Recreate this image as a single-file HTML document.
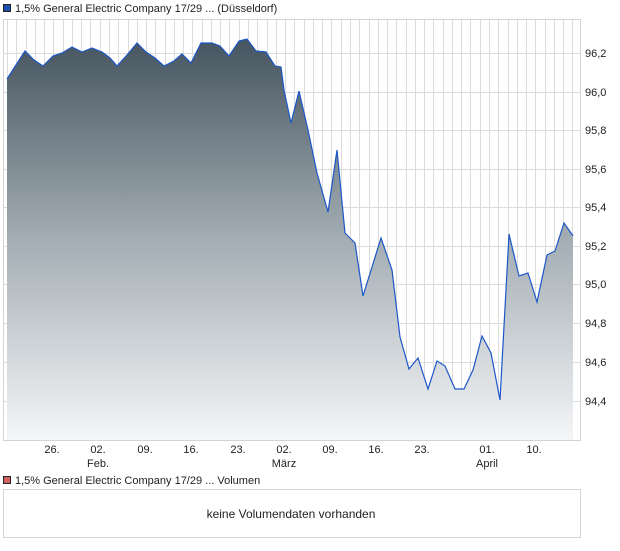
<!DOCTYPE html>
<html><head><meta charset="utf-8"><style>
body{margin:0;background:#fff;width:620px;height:546px;overflow:hidden;font-family:"Liberation Sans",sans-serif;}
</style></head><body>
<svg width="620" height="546" xmlns="http://www.w3.org/2000/svg" font-family="Liberation Sans, sans-serif">
<defs>
<linearGradient id="g" x1="0" y1="0" x2="0" y2="1">
<stop offset="0" stop-color="#45545f"/>
<stop offset="0.5" stop-color="#a3adb3"/>
<stop offset="1" stop-color="#f5f6f8"/>
</linearGradient>
</defs>
<rect x="3.5" y="4.5" width="7" height="7" fill="#1f4fb0" stroke="#222" stroke-width="1"/>
<text x="15" y="12" font-size="11" fill="#222">1,5% General Electric Company 17/29 ... (Düsseldorf)</text>
<g stroke="#dcdcdc" stroke-width="1">
<line x1="3" y1="53.5" x2="580" y2="53.5"/><line x1="3" y1="92.5" x2="580" y2="92.5"/><line x1="3" y1="130.5" x2="580" y2="130.5"/><line x1="3" y1="169.5" x2="580" y2="169.5"/><line x1="3" y1="207.5" x2="580" y2="207.5"/><line x1="3" y1="246.5" x2="580" y2="246.5"/><line x1="3" y1="284.5" x2="580" y2="284.5"/><line x1="3" y1="323.5" x2="580" y2="323.5"/><line x1="3" y1="362.5" x2="580" y2="362.5"/><line x1="3" y1="401.5" x2="580" y2="401.5"/>
</g>
<g stroke="#dcdcdc" stroke-width="1" id="vg"></g>
<path d="M7,79 L16,65 L25,51 L34,60 L43,66 L53,56 L62,53 L72,47 L82,52 L92,48 L102,52 L110,58 L117,66 L127,55 L137,43 L146,52 L155,58 L164,66 L174,61 L182,54 L191,63 L201,43 L212,43 L220,46 L229,56 L239,41 L247,39 L256,51 L266,52 L275,66 L281,67 L284,90 L291,123 L299,91 L308,130 L317,173 L328,212 L337,150 L345,233 L355,243 L363,296 L381,238 L392,270 L400,337 L409,369 L418,358 L428,389 L437,361 L445,366 L455,389 L464,389 L473,370 L482,336 L491,353 L500,400 L509,234 L519,276 L528,273 L537,302 L547,255 L555,251 L564,223 L573,236 L573,440 L7,440 Z" fill="url(#g)"/>
<path d="M7,79 L16,65 L25,51 L34,60 L43,66 L53,56 L62,53 L72,47 L82,52 L92,48 L102,52 L110,58 L117,66 L127,55 L137,43 L146,52 L155,58 L164,66 L174,61 L182,54 L191,63 L201,43 L212,43 L220,46 L229,56 L239,41 L247,39 L256,51 L266,52 L275,66 L281,67 L284,90 L291,123 L299,91 L308,130 L317,173 L328,212 L337,150 L345,233 L355,243 L363,296 L381,238 L392,270 L400,337 L409,369 L418,358 L428,389 L437,361 L445,366 L455,389 L464,389 L473,370 L482,336 L491,353 L500,400 L509,234 L519,276 L528,273 L537,302 L547,255 L555,251 L564,223 L573,236" fill="none" stroke="#1c57c8" stroke-width="1.2"/>
<rect x="3.5" y="19.5" width="577" height="421" fill="none" stroke="#d4d4d4"/>
<g font-size="11" fill="#222">
<text x="585" y="57">96,2</text><text x="585" y="96">96,0</text><text x="585" y="134">95,8</text><text x="585" y="173">95,6</text><text x="585" y="211">95,4</text><text x="585" y="250">95,2</text><text x="585" y="288">95,0</text><text x="585" y="327">94,8</text><text x="585" y="366">94,6</text><text x="585" y="405">94,4</text>
</g>
<g font-size="11" fill="#222" text-anchor="middle">
<text x="52" y="453">26.</text><text x="98" y="453">02.</text><text x="98" y="467">Feb.</text><text x="145" y="453">09.</text><text x="191" y="453">16.</text><text x="238" y="453">23.</text><text x="284" y="453">02.</text><text x="284" y="467">März</text><text x="330" y="453">09.</text><text x="376" y="453">16.</text><text x="422" y="453">23.</text><text x="487" y="453">01.</text><text x="487" y="467">April</text><text x="534" y="453">10.</text>
</g>
<rect x="3.5" y="476.5" width="7" height="7" fill="#d06060" stroke="#222"/>
<text x="15" y="484" font-size="11" fill="#222">1,5% General Electric Company 17/29 ... Volumen</text>
<rect x="3.5" y="489.5" width="577" height="48" fill="#fff" stroke="#d4d4d4"/>
<text x="291" y="518" font-size="12" fill="#222" text-anchor="middle">keine Volumendaten vorhanden</text>
</svg>
<script>
var g=document.getElementById('vg');var h='';
for(var x=7;x<578;x+=9.27){var xx=Math.round(x)+0.5;h+='<line x1="'+xx+'" y1="20" x2="'+xx+'" y2="440"/>';}
g.innerHTML=h;
var p=g.parentNode;p.insertBefore(g,p.querySelector('path'));
</script>
</body></html>
